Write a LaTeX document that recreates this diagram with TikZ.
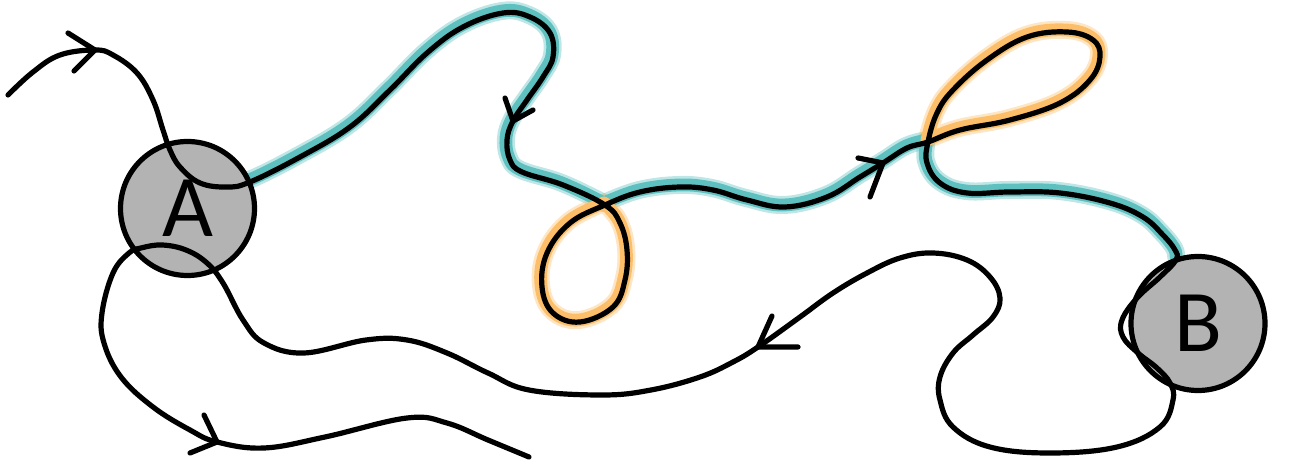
\documentclass[tikz,border=0pt]{standalone}
\usepackage{fontspec}
\setmainfont{Carlito}
\definecolor{tealhl}{RGB}{95,192,192}
\definecolor{orangehl}{RGB}{253,190,105}
\definecolor{nodegray}{RGB}{179,179,179}
\tikzset{
  strand/.style={line width=2.6pt, line cap=round, line join=round, draw=black},
  hlsoft/.style={line width=9pt, line cap=round, line join=round, opacity=0.4, shift={(-1,-2)}},
  hlcore/.style={line width=6.4pt, line cap=round, line join=round, shift={(-1,-2)}},
  barb/.style={line width=2.6pt, line cap=round, line join=round, draw=black},
  place/.style={circle, draw=black, line width=2.6pt, fill=nodegray, minimum size=67pt, inner sep=0pt,
    font=\fontsize{44}{44}\selectfont}
}
\begin{document}
\begin{tikzpicture}[x=0.5pt,y=-0.5pt]
\useasboundingbox (0,0) rectangle (1292,470);

% highlights (teal segments and orange loops)
\foreach \st in {hlsoft,hlcore}{
  \draw[\st, draw=tealhl] plot[smooth, tension=0.65] coordinates {(227,187) (250,182) (300,157) (350,127) (390,90) (427,53) (463,27) (503,13) (530,17) (550,33) (553,57) (543,77) (527,100) (513,121) (507,140) (510,160) (522,172) (563,185) (605,205)};
  \draw[\st, draw=tealhl] plot[smooth, tension=0.65] coordinates {(605,205) (640,192) (680,187) (713,190) (747,200) (785,207) (827,197) (860,177) (883,163) (907,148) (928,142)};
  \draw[\st, draw=tealhl] plot[smooth, tension=0.65] coordinates {(928,142) (927,163) (940,183) (967,193) (1010,192) (1060,193) (1110,203) (1143,217) (1163,235) (1175,250) (1177,258)};
  \draw[\st, draw=orangehl] plot[smooth, tension=0.65] coordinates {(605,205) (620,223) (627,250) (625,280) (613,307) (580,322) (553,313) (542,287) (547,253) (570,223) (605,205)};
  \draw[\st, draw=orangehl] plot[smooth, tension=0.65] coordinates {(928,142) (960,130) (1010,120) (1060,103) (1090,80) (1100,57) (1093,40) (1067,32) (1027,37) (987,60) (953,90) (937,113) (928,142)};
}

% places
\node[place] (A) at (187.5,208.5) {A};
\node[place] (B) at (1198,323.5) {B};

% the strand
\draw[strand] plot[smooth, tension=0.65] coordinates {
(8,95) (33,72) (60,55) (95,50) (113,55) (137,73) (153,100) (163,130) (170,150) (180,167) (200,183) (227,187) (250,182) (300,157) (350,127) (390,90) (427,53) (463,27) (503,13) (530,17) (550,33) (553,57) (543,77) (527,100) (513,121) (507,140) (510,160) (522,172) (563,185) (605,205) (620,223) (627,250) (625,280) (613,307) (580,322) (553,313) (542,287) (547,253) (570,223) (605,205) (640,192) (680,187) (713,190) (747,200) (785,207) (827,197) (860,177) (883,163) (907,148) (928,142) (960,130) (1010,120) (1060,103) (1090,80) (1100,57) (1093,40) (1067,32) (1027,37) (987,60) (953,90) (937,113) (928,142) (927,163) (940,183) (967,193) (1010,192) (1060,193) (1110,203) (1143,217) (1163,235) (1175,250) (1176,260) (1160,277) (1137,298) (1122,320) (1123,337) (1138,353) (1157,368) (1170,383) (1173,400) (1160,427) (1117,447) (1050,453) (990,447) (953,427) (940,400) (940,377) (953,353) (973,335) (993,317) (1000,298) (990,277) (967,260) (933,253) (900,258) (867,273) (833,293) (800,317) (758,347) (733,362) (700,377) (651,390) (602,395) (529,390) (488,373) (447,353) (407,340) (366,340) (304,353) (264,343) (243,320) (223,283) (207,263) (186,250) (162,245) (141,248) (129,253) (113,273) (102,313) (104,343) (121,377) (153,407) (190,430) (217,442) (264,448) (325,437) (407,418) (447,423) (488,440) (529,457)};

% arrowheads (open barbs)
\coordinate (t1) at (95,50);   \coordinate (t1a) at (68,33);   \coordinate (t1b) at (74,71);
\coordinate (t2) at (513,121); \coordinate (t2a) at (505,98);  \coordinate (t2b) at (533,110);
\coordinate (t3) at (883,163); \coordinate (t3a) at (858,158); \coordinate (t3b) at (870,197);
\coordinate (t4) at (758,347); \coordinate (t4a) at (772,316); \coordinate (t4b) at (798,347);
\coordinate (t5) at (217,442); \coordinate (t5a) at (204,415); \coordinate (t5b) at (190,453);
\foreach \t in {t1,t2,t3,t4,t5}{
  \draw[barb] (\t a) -- (\t) -- (\t b);
}
\end{tikzpicture}
\end{document}
